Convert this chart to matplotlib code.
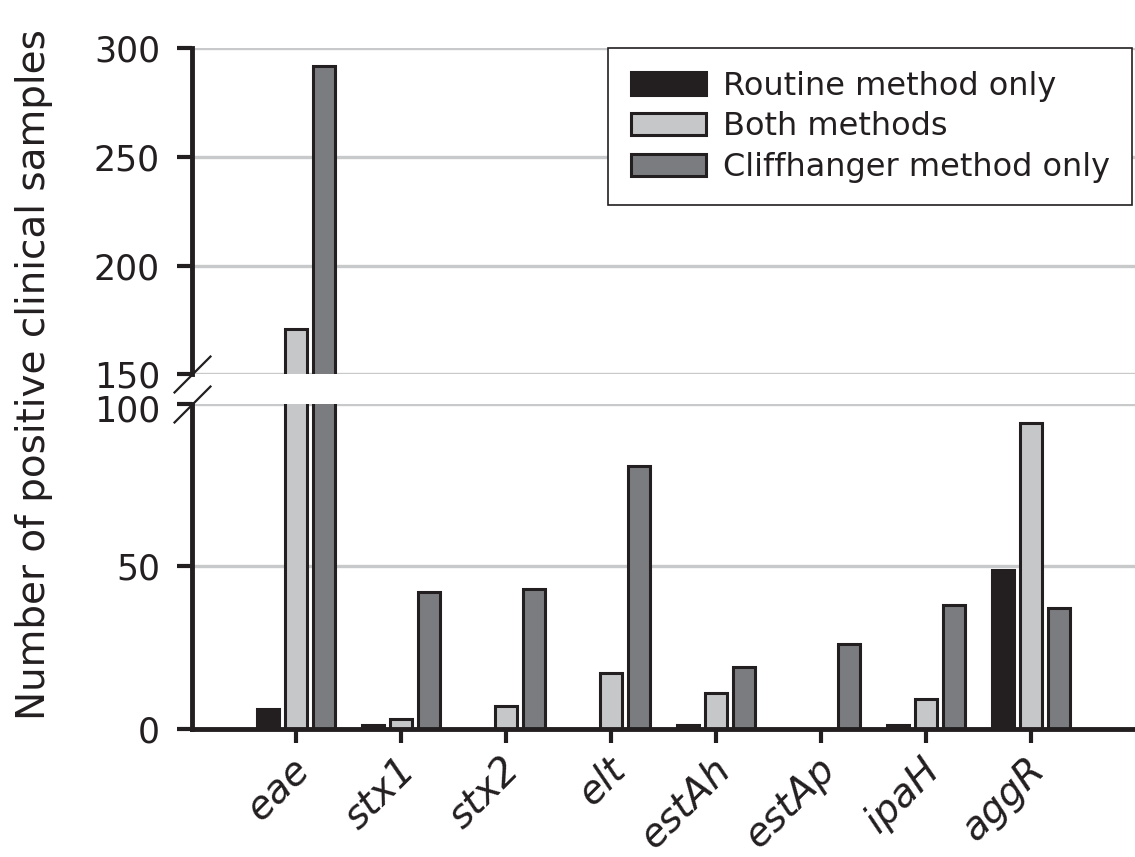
import numpy as np
import matplotlib
matplotlib.use("Agg")
import matplotlib.pyplot as plt
from matplotlib.transforms import ScaledTranslation

# data
genes = ["eae", "stx1", "stx2", "elt", "estAh", "estAp", "ipaH", "aggR"]
routine_only = [6, 1, 0, 0, 1, 0, 1, 49]
both_methods = [171, 3, 7, 17, 11, 0, 9, 94]
cliffhanger_only = [292, 42, 43, 81, 19, 26, 38, 37]

series_names = ["Routine method only", "Both methods", "Cliffhanger method only"]
series_values = [routine_only, both_methods, cliffhanger_only]
series_colors = ["#231f20", "#c6c7c9", "#7b7c80"]

ink = "#231f20"
grid_col = "#c8c9cb"

plt.rcParams["font.family"] = ["DejaVu Sans"]

fig = plt.figure(figsize=(11.35, 8.57), dpi=100)
ax_top = fig.add_axes([0.1692, 0.5631, 0.8308, 0.3805])
ax_bot = fig.add_axes([0.1692, 0.1499, 0.8308, 0.3787])

x = np.arange(len(genes))
offsets = [-0.265, 0.0, 0.265]
width = 0.205

for ax in (ax_top, ax_bot):
    for vals, name, col, off in zip(series_values, series_names, series_colors, offsets):
        ax.bar(x + off, vals, width, color=col, edgecolor=ink, linewidth=2.2, label=name)
    ax.set_xlim(-0.99, 7.99)
    ax.set_axisbelow(True)
    ax.yaxis.grid(True, color=grid_col, linewidth=2.4)
    for s in ("top", "right"):
        ax.spines[s].set_visible(False)
    ax.spines["left"].set_linewidth(3.5)
    ax.spines["left"].set_color(ink)
    ax.tick_params(axis="y", length=11, width=3, color=ink, labelsize=25,
                   labelcolor=ink, pad=12)

ax_top.set_ylim(150, 300)
ax_top.set_yticks([150, 200, 250, 300])
ax_top.spines["bottom"].set_visible(False)
ax_top.tick_params(axis="x", bottom=False, labelbottom=False)

ax_bot.set_ylim(0, 100)
ax_bot.set_yticks([0, 50, 100])
ax_bot.spines["bottom"].set_linewidth(3.5)
ax_bot.spines["bottom"].set_color(ink)
ax_bot.set_xticks(x)
ax_bot.set_xticklabels(genes, rotation=45, ha="right", va="baseline",
                       rotation_mode="anchor", fontsize=28, style="italic", color=ink)
ax_bot.tick_params(axis="x", length=10, width=3, color=ink, pad=21)
shift = ScaledTranslation(16 / 100, 0, fig.dpi_scale_trans)
for lab in ax_bot.get_xticklabels():
    lab.set_transform(lab.get_transform() + shift)

# the "100" label sits a little below its gridline, as in the original
down = ScaledTranslation(0, -4 / 100, fig.dpi_scale_trans)
lab100 = ax_bot.get_yticklabels()[-1]
lab100.set_transform(lab100.get_transform() + down)

# axis break marks
brk = dict(marker=[(-1, -1), (1, 1)], markersize=27, linestyle="none",
           color=ink, mec=ink, mew=1.6, clip_on=False)
ax_top.plot([0], [0], transform=ax_top.transAxes, **brk)
ax_bot.plot([0], [1], transform=ax_bot.transAxes, **brk)

fig.text(0.030, 0.5625, "Number of positive clinical samples", rotation=90,
         ha="center", va="center", fontsize=28, color=ink)

leg = ax_top.legend(loc="upper right", bbox_to_anchor=(0.997, 1.0), borderaxespad=0,
                    fontsize=23, frameon=True, fancybox=False, framealpha=1,
                    edgecolor=ink, handlelength=2.35, handleheight=0.7,
                    handletextpad=0.53, labelspacing=0.3, borderpad=0.7)
leg.get_frame().set_linewidth(1.2)
for t in leg.get_texts():
    t.set_color(ink)

fig.savefig("out.png", dpi=100)
